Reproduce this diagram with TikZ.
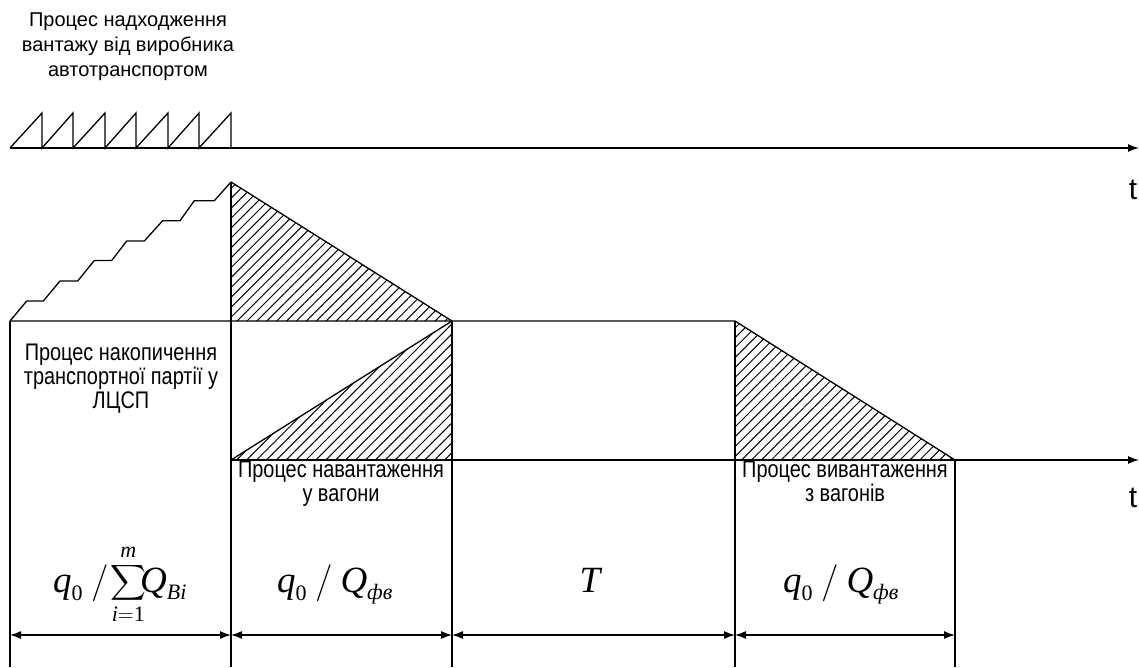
\documentclass[tikz,border=0pt]{standalone}
\usepackage{fix-cm}
\usepackage{amsmath}
\usepackage{fontspec}
\setmainfont{Liberation Sans}
\newfontfamily\tnr{Liberation Serif}
\newfontfamily\narrowfont{Liberation Sans}[FakeStretch=0.83]
\usetikzlibrary{arrows.meta,patterns.meta}
\DeclareMathSizes{37}{37}{22}{16}
\newcommand\vi[1]{\text{\tnr\itshape #1}}
\newcommand\vr[1]{\text{\tnr #1}}
\newcommand\myslash{\mkern4mu/\mkern4mu}
\begin{document}
\begin{tikzpicture}[x=1pt,y=-1pt,
  ln/.style={line width=1.3pt},
  hatch/.style={pattern={Lines[angle=45,distance=7pt,line width=1pt]}},
  dim/.style={line width=1.3pt,{Latex[length=11pt,width=8pt]}-{Latex[length=11pt,width=8pt]}},
  axis/.style={line width=1.3pt,-{Latex[length=11pt,width=8pt]}},
  lbl/.style={font=\fontsize{20}{25}\selectfont,align=center,inner sep=0pt},
  box/.style={font=\narrowfont\fontsize{24}{24}\selectfont,align=center,inner sep=0pt,anchor=north},
  frm/.style={font=\fontsize{37}{40}\selectfont,inner sep=0pt,anchor=base},
  tl/.style={font=\fontsize{30}{30}\selectfont,inner sep=0pt}]
\useasboundingbox (0,0) rectangle (1139,667);
% key points
\coordinate (a0) at (10,148);
\coordinate (a1) at (1139,148);
\coordinate (b0) at (231,460);
\coordinate (b1) at (1139,460);
\coordinate (p) at (231,182);
\coordinate (L0) at (10,321);
\coordinate (m1) at (231,321);
\coordinate (m2) at (452,321);
\coordinate (m3) at (735,321);
\coordinate (n1) at (452,460);
\coordinate (n2) at (735,460);
\coordinate (n3) at (955,460);
\coordinate (d0) at (10,635);
\coordinate (d1) at (231,635);
\coordinate (d2) at (452,635);
\coordinate (d3) at (735,635);
\coordinate (d4) at (955,635);
% hatched triangles
\fill[hatch] (p) -- (m2) -- (m1) -- cycle;
\fill[hatch] (b0) -- (m2) -- (n1) -- cycle;
\fill[hatch] (m3) -- (n3) -- (n2) -- cycle;
% axes
\draw[axis] (a0) -- (a1);
\draw[axis] (b0) -- (b1);
% sawtooth
\draw[ln,line join=miter] (a0) -- (42,113) -- (42,148) -- (73,113) -- (73,148) -- (105,113) -- (105,148)
  -- (136,113) -- (136,148) -- (168,113) -- (168,148) -- (199,113) -- (199,148) -- (231,113) -- (231,148);
% staircase
\draw[ln] (L0) -- (26.7,301) -- (43.3,301) -- (60,281) -- (77.7,281) -- (94.3,260.5) -- (111.7,260.5)
  -- (126.7,241) -- (144.3,241) -- (162.7,220.7) -- (180,220.7) -- (194.3,200.7) -- (214.3,200.7) -- (p);
% outlines
\draw[ln] (L0) -- (m3) -- (n3);
\draw[ln] (p) -- (m2);
\draw[ln] (b0) -- (m2);
\draw[ln] (L0) -- (10,667);
\draw[ln] (p) -- (231,667);
\draw[ln] (m2) -- (452,667);
\draw[ln] (m3) -- (735,667);
\draw[ln] (n3) -- (955,667);
% dimension arrows
\draw[dim] (d0) -- (d1);
\draw[dim] (d1) -- (d2);
\draw[dim] (d2) -- (d3);
\draw[dim] (d3) -- (d4);
% texts
\node[lbl] (t1) at (128,47) {Процес надходження\\вантажу від виробника\\автотранспортом};
\node[box] (t2) at (121,344) {Процес накопичення\\транспортної партії у\\ЛЦСП};
\node[box] (t3) at (341,461) {Процес навантаження\\у вагони};
\node[box] (t4) at (845,461) {Процес вивантаження\\з вагонів};
\node[tl] (tt1) at (1133,190) {t};
\node[tl] (tt2) at (1133,498) {t};
% formulas
\node[frm] (f1) at (120,592) {$\vi{q}_{\vr{0}}\mkern4mu/\mkern1mu{\displaystyle\sum_{\vi{i}=\vr{1}}^{\vi{m}}}\mkern-3mu\vi{Q}_{\vi{Bi}}$};
\node[frm] (f2) at (335,592) {$\vi{q}_{\vr{0}}\myslash\vi{Q}_{\vi{фв}}$};
\node[frm] (f3) at (590,592) {$\vi{T}$};
\node[frm] (f4) at (841,592) {$\vi{q}_{\vr{0}}\myslash\vi{Q}_{\vi{фв}}$};
\end{tikzpicture}
\end{document}
